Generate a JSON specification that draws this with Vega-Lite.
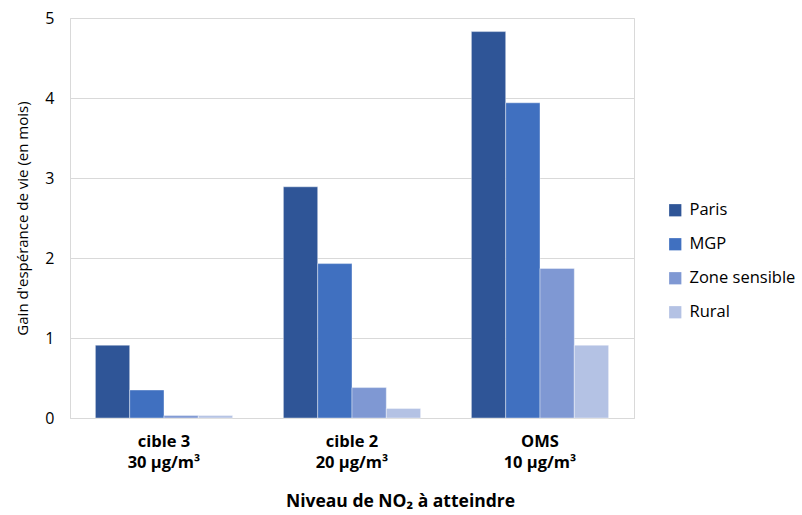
{
  "$schema": "https://vega.github.io/schema/vega-lite/v6.json",
  "autosize": "none",
  "width": 564,
  "height": 400,
  "padding": {"left": 70, "top": 18, "right": 168, "bottom": 97},
  "background": "white",
  "config": {
    "font": "Open Sans",
    "view": {"stroke": "#d9d9d9", "strokeWidth": 1}
  },
  "data": {
    "values": [
      {"niveau": "cible 3\n30 µg/m³", "zone": "Paris", "gain": 0.91},
      {"niveau": "cible 3\n30 µg/m³", "zone": "MGP", "gain": 0.35},
      {"niveau": "cible 3\n30 µg/m³", "zone": "Zone sensible", "gain": 0.03},
      {"niveau": "cible 3\n30 µg/m³", "zone": "Rural", "gain": 0.03},
      {"niveau": "cible 2\n20 µg/m³", "zone": "Paris", "gain": 2.89},
      {"niveau": "cible 2\n20 µg/m³", "zone": "MGP", "gain": 1.93},
      {"niveau": "cible 2\n20 µg/m³", "zone": "Zone sensible", "gain": 0.38},
      {"niveau": "cible 2\n20 µg/m³", "zone": "Rural", "gain": 0.12},
      {"niveau": "OMS\n10 µg/m³", "zone": "Paris", "gain": 4.83},
      {"niveau": "OMS\n10 µg/m³", "zone": "MGP", "gain": 3.94},
      {"niveau": "OMS\n10 µg/m³", "zone": "Zone sensible", "gain": 1.87},
      {"niveau": "OMS\n10 µg/m³", "zone": "Rural", "gain": 0.91}
    ]
  },
  "mark": {"type": "bar", "stroke": "#ffffff", "strokeOpacity": 0.5, "strokeWidth": 0.8},
  "encoding": {
    "x": {
      "field": "niveau",
      "type": "nominal",
      "sort": null,
      "scale": {"paddingInner": 0.27, "paddingOuter": 0.135},
      "axis": {
        "title": "Niveau de NO₂ à atteindre",
        "titleFontSize": 17.5,
        "titleFontWeight": "bold",
        "titleColor": "#000000",
        "titlePadding": 22,
        "titleX": 330,
        "titleAlign": "center",
        "labelExpr": "split(datum.label, '\\n')",
        "labelAngle": 0,
        "labelFontSize": 16.5,
        "labelFontWeight": "bold",
        "labelColor": "#000000",
        "labelLineHeight": 21,
        "labelPadding": 15,
        "ticks": false,
        "domainColor": "#d9d9d9"
      }
    },
    "xOffset": {"field": "zone", "type": "nominal", "sort": ["Paris", "MGP", "Zone sensible", "Rural"]},
    "y": {
      "field": "gain",
      "type": "quantitative",
      "scale": {"domain": [0, 5], "nice": false},
      "axis": {
        "title": "Gain d'espérance de vie (en mois)",
        "titleFontSize": 15,
        "titleFontWeight": "normal",
        "titleColor": "#000000",
        "titlePadding": 14,
        "labelFontSize": 16,
        "labelColor": "#000000",
        "labelPadding": 16,
        "values": [0, 1, 2, 3, 4, 5],
        "labelOverlap": false,
        "ticks": false,
        "domain": false,
        "gridColor": "#d9d9d9"
      }
    },
    "color": {
      "field": "zone",
      "type": "nominal",
      "sort": ["Paris", "MGP", "Zone sensible", "Rural"],
      "scale": {
        "domain": ["Paris", "MGP", "Zone sensible", "Rural"],
        "range": ["#2F5597", "#4070C0", "#7F98D3", "#B4C2E4"]
      },
      "legend": {
        "title": null,
        "orient": "none",
        "legendX": 597,
        "legendY": 184,
        "symbolType": "square",
        "symbolSize": 150,
        "symbolStrokeWidth": 0,
        "labelFontSize": 16.5,
        "labelColor": "#000000",
        "rowPadding": 17,
        "labelOffset": 6
      }
    }
  }
}
